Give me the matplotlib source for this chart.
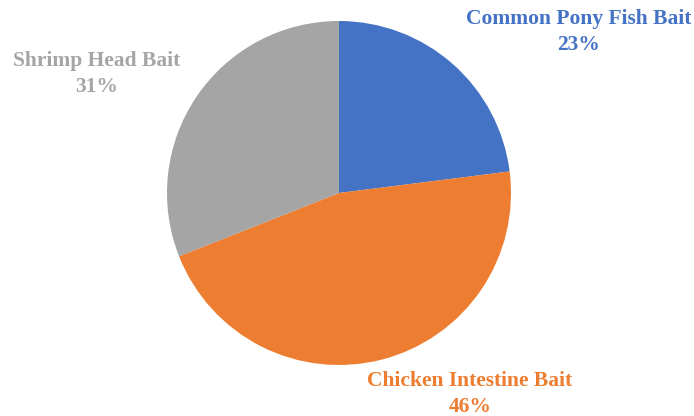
import matplotlib
matplotlib.use("Agg")
import matplotlib.pyplot as plt

categories = ["Common Pony Fish Bait", "Chicken Intestine Bait", "Shrimp Head Bait"]
values = [23, 46, 31]
colors = ["#4472C4", "#ED7D31", "#A5A5A5"]

W, H = 694, 416
fig = plt.figure(figsize=(W / 100, H / 100), dpi=100)
ax = fig.add_axes([0, 0, 1, 1])

cx, cy, r = 339, H - 193, 172
ax.pie(values, colors=colors, startangle=90, counterclock=False,
       center=(cx, cy), radius=r, frame=True,
       wedgeprops=dict(linewidth=0))
ax.set_xlim(0, W)
ax.set_ylim(0, H)
ax.set_aspect("equal")
ax.axis("off")

label_pos = [(579, 32), (470, 394), (97, 74)]
for cat, val, col, (px, py) in zip(categories, values, colors, label_pos):
    ax.text(px, H - py, f"{cat}\n{val}%", ha="center", va="center",
            color=col, fontsize=15.5, fontweight="bold",
            family="Liberation Serif", linespacing=1.38)

fig.savefig("out.png", dpi=100)
